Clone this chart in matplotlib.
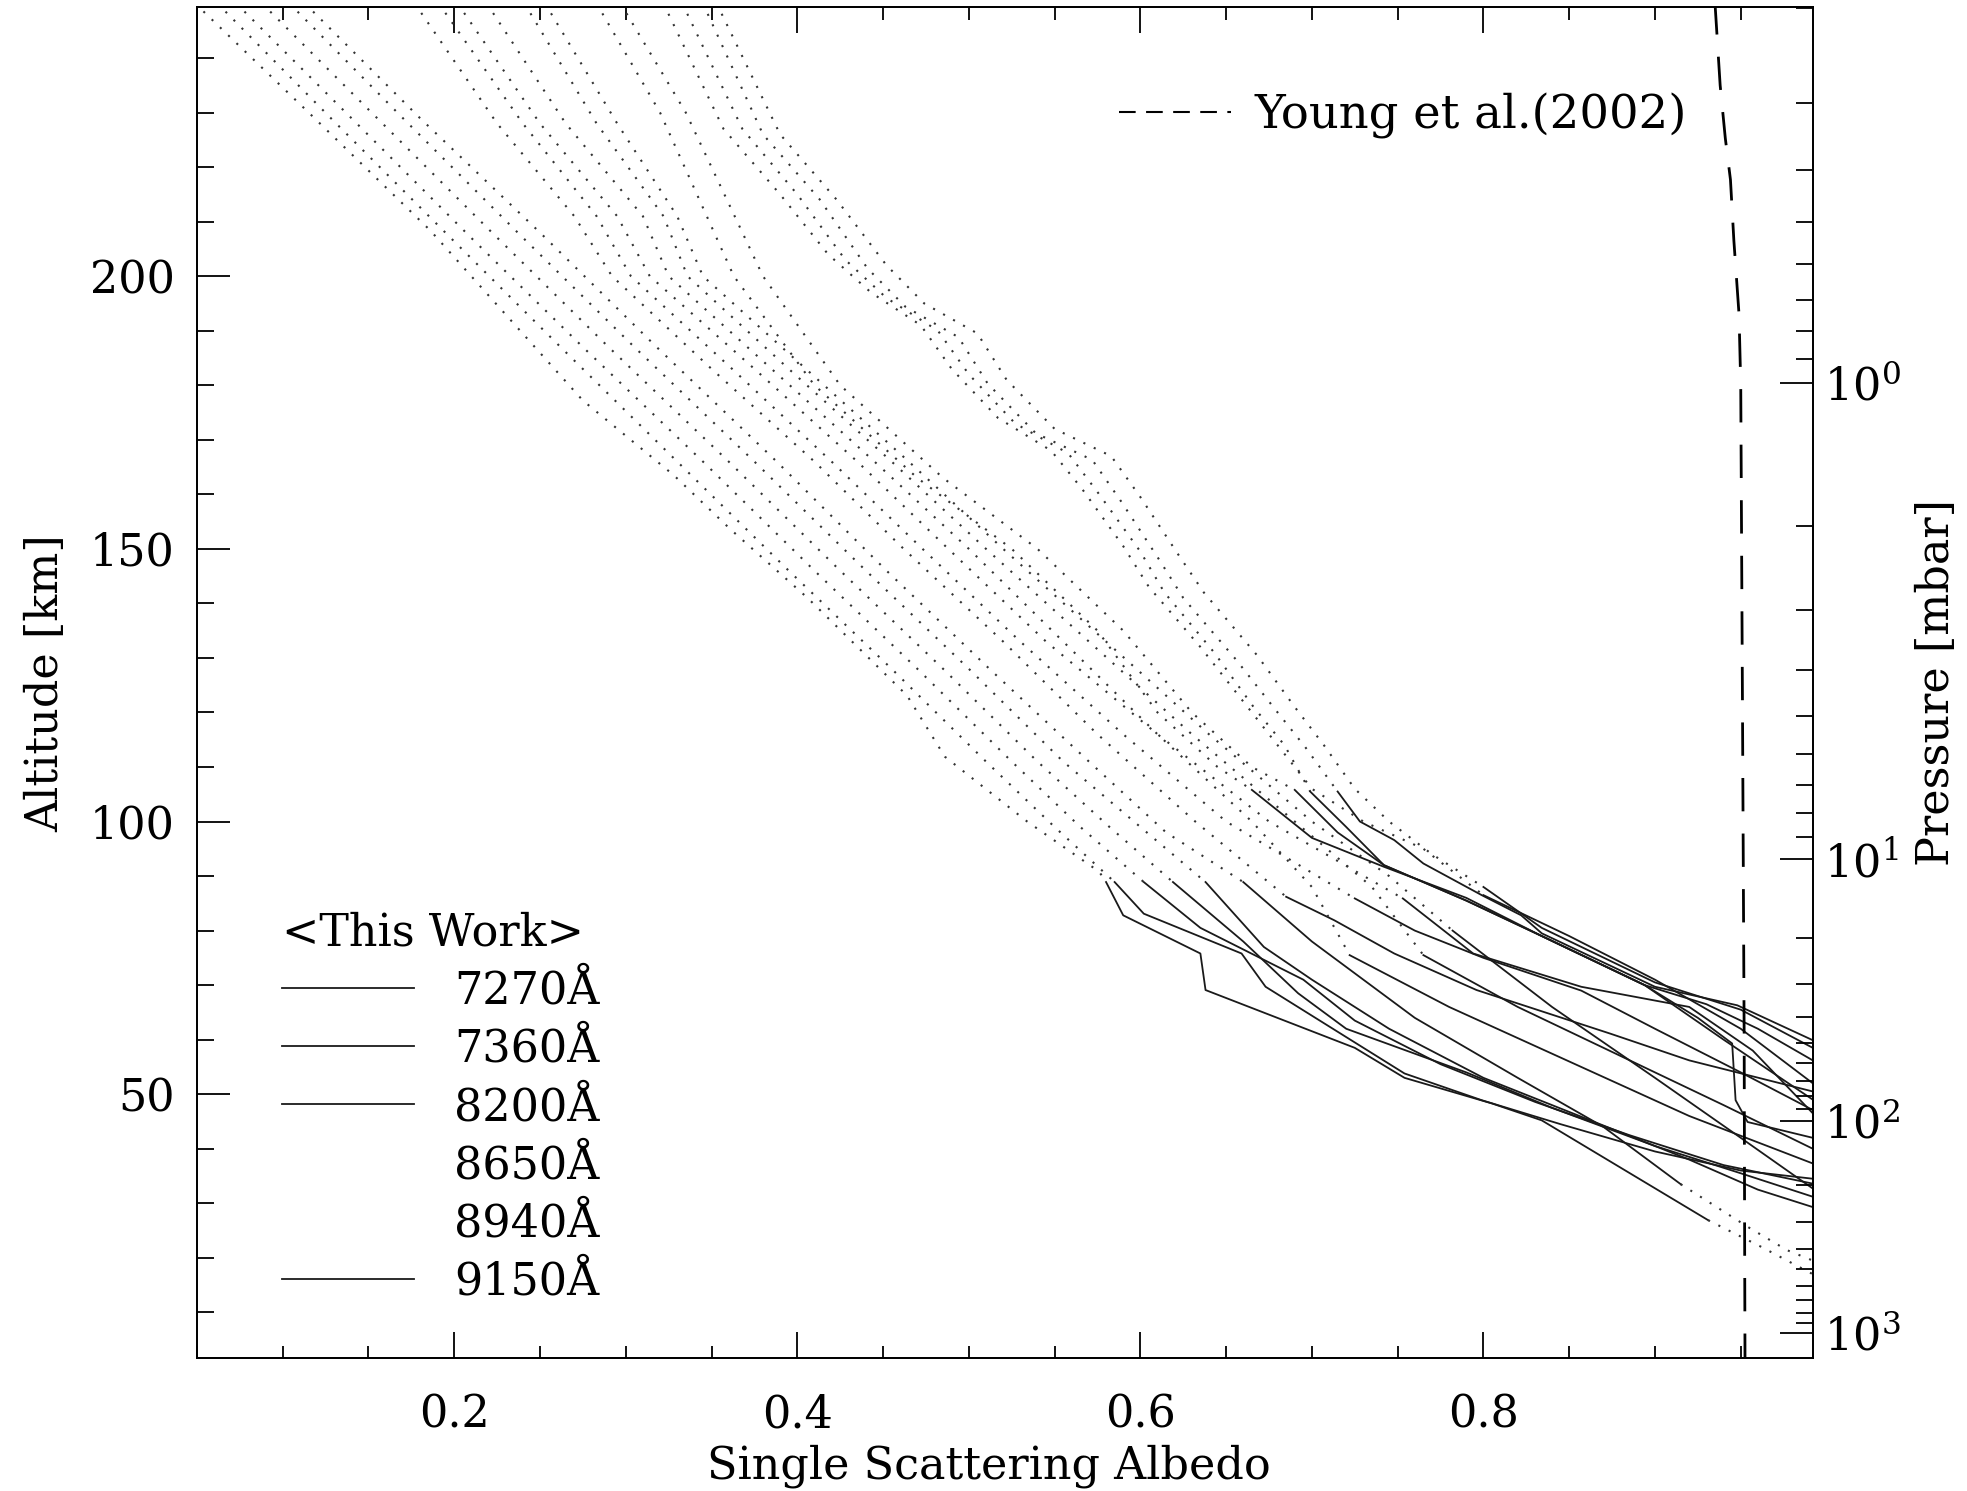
import numpy as np
import matplotlib
matplotlib.use("Agg")
import matplotlib.pyplot as plt
from matplotlib.lines import Line2D
from matplotlib.ticker import MultipleLocator

plt.rcParams['font.family'] = ['DejaVu Serif', 'DejaVu Sans']
plt.rcParams['mathtext.fontset'] = 'dejavuserif'

FS = 32

# ---------------- data ----------------
wavelengths = ['7270Å', '7360Å', '8200Å', '8650Å', '8940Å', '9150Å']

# Young et al. (2002) albedo profile
young_albedo = [0.9525, 0.9523, 0.952, 0.951, 0.950, 0.949, 0.946, 0.944, 0.941, 0.938, 0.935]
young_alt = [0.0, 20.0, 60.0, 122.0, 180.0, 193.0, 206.5, 217.7, 225.3, 235.0, 250.0]

# pressure scale of the right axis: altitude [km] vs log10(p / mbar)
press_alt = [0.0, 6.2, 45.0, 93.1, 180.4, 260.0]
press_log = [3.17, 3.0, 2.0, 1.0, 0.0, -0.81]

# retrieved profiles (albedo, altitude); *_solid = (lowest, highest) altitude of the solid part
l1_albedo = [0.049, 0.1145, 0.186, 0.247, 0.275, 0.328, 0.361, 0.406, 0.464, 0.486, 0.534, 0.576, 0.580,
             0.590, 0.635, 0.638, 0.725, 0.754, 0.805, 0.834, 0.931, 0.962, 0.992]
l1_alt = [250.0, 230.2, 208.4, 187.0, 177.2, 163.5, 153.6, 141.0, 123.1, 111.9, 100.0, 90.8, 88.9,
          82.8, 75.8, 69.1, 58.5, 53.0, 48.3, 45.2, 26.9, 22.0, 17.0]
l1_solid = (26.9, 88.9)

l2_albedo = [0.062, 0.128, 0.198, 0.262, 0.33, 0.395, 0.455, 0.51, 0.55, 0.585,
             0.602, 0.659, 0.673, 0.754, 0.799, 0.845, 0.90, 0.95, 0.992]
l2_alt = [250.0, 229.0, 207.0, 187.0, 166.0, 146.0, 128.0, 111.0, 99.0, 88.9,
          83.1, 75.8, 69.7, 53.8, 48.9, 44.5, 39.5, 36.0, 34.5]
l2_solid = (34.5, 88.9)

l3_albedo = [0.073, 0.14, 0.21, 0.275, 0.345, 0.41, 0.47, 0.525, 0.565, 0.602,
             0.635, 0.695, 0.725, 0.775, 0.83, 0.885, 0.94, 0.992]
l3_alt = [250.0, 229.0, 207.0, 187.0, 166.0, 146.0, 128.0, 111.0, 99.0, 88.9,
          80.5, 71.0, 63.5, 55.5, 48.6, 42.5, 37.0, 33.6]
l3_solid = (33.6, 88.9)

l4_albedo = [0.088, 0.155, 0.222, 0.29, 0.36, 0.425, 0.485, 0.54, 0.582, 0.619,
             0.66, 0.692, 0.72, 0.79, 0.84, 0.90, 0.95, 0.992]
l4_alt = [250.0, 229.0, 208.0, 187.0, 166.0, 146.0, 128.0, 111.0, 99.0, 88.9,
          78.0, 68.5, 62.0, 54.0, 47.5, 40.5, 35.5, 31.2]
l4_solid = (31.2, 88.9)

l5_albedo = [0.104, 0.17, 0.237, 0.305, 0.375, 0.44, 0.50, 0.555, 0.60, 0.638,
             0.672, 0.70, 0.745, 0.80, 0.86, 0.92, 0.96, 0.992]
l5_alt = [250.0, 229.0, 208.0, 187.0, 166.0, 146.0, 128.0, 111.0, 99.0, 88.9,
          77.0, 71.0, 62.0, 53.0, 45.5, 38.0, 32.5, 29.3]
l5_solid = (29.3, 88.9)

l6_albedo = [0.113, 0.18, 0.25, 0.318, 0.388, 0.452, 0.512, 0.57, 0.615, 0.66,
             0.70, 0.76, 0.82, 0.87, 0.915, 0.955, 0.977, 0.992]
l6_alt = [250.0, 229.0, 208.0, 187.0, 166.0, 146.0, 128.0, 111.0, 98.0, 88.9,
          78.0, 64.0, 53.0, 44.0, 33.5, 25.5, 21.4, 19.5]
l6_solid = (33.5, 88.9)

m1_albedo = [0.177, 0.225, 0.27, 0.292, 0.35, 0.41, 0.462, 0.52, 0.575, 0.632, 0.685,
             0.713, 0.748, 0.796, 0.874, 0.920, 0.992]
m1_alt = [250.0, 228.0, 211.0, 200.0, 183.0, 166.0, 150.0, 133.0, 116.0, 100.0, 86.2,
          81.9, 75.8, 69.1, 61.1, 56.2, 50.5]
m1_solid = (50.5, 86.2)

m2_albedo = [0.191, 0.24, 0.283, 0.303, 0.362, 0.42, 0.473, 0.53, 0.59, 0.65, 0.725,
             0.76, 0.80, 0.857, 0.90, 0.95, 0.992]
m2_alt = [250.0, 228.0, 211.0, 200.0, 183.0, 166.0, 150.0, 133.0, 116.0, 100.0, 85.9,
          80.0, 75.0, 69.0, 62.0, 54.0, 47.1]
m2_solid = (47.1, 85.9)

m3_albedo = [0.202, 0.25, 0.295, 0.314, 0.375, 0.435, 0.488, 0.545, 0.61, 0.675, 0.753,
             0.794, 0.857, 0.92, 0.957, 0.992]
m3_alt = [250.0, 228.0, 211.0, 200.0, 183.0, 166.0, 150.0, 133.0, 116.0, 100.0, 85.9,
          75.8, 69.7, 66.0, 58.0, 46.5]
m3_solid = (46.5, 85.9)

m4_albedo = [0.219, 0.265, 0.31, 0.325, 0.385, 0.445, 0.50, 0.555, 0.61, 0.665, 0.70,
             0.722, 0.78, 0.85, 0.92, 0.992]
m4_alt = [250.0, 228.0, 211.0, 200.0, 183.0, 166.0, 150.0, 133.0, 116.0, 100.0, 88.0,
          75.5, 66.0, 56.0, 46.0, 37.3]
m4_solid = (37.3, 75.5)

m5_albedo = [0.241, 0.283, 0.322, 0.336, 0.395, 0.455, 0.51, 0.57, 0.63, 0.69, 0.735,
             0.765, 0.82, 0.88, 0.94, 0.992]
m5_alt = [250.0, 228.0, 211.0, 200.0, 183.0, 166.0, 150.0, 133.0, 116.0, 100.0, 88.0,
          75.5, 66.0, 57.0, 48.0, 40.0]
m5_solid = (40.0, 75.5)

m6_albedo = [0.253, 0.295, 0.33, 0.345, 0.405, 0.465, 0.52, 0.58, 0.64, 0.70, 0.745,
             0.782, 0.84, 0.90, 0.95, 0.992]
m6_alt = [250.0, 228.0, 211.0, 200.0, 183.0, 166.0, 150.0, 133.0, 116.0, 100.0, 90.0,
          80.0, 66.0, 53.0, 42.0, 32.7]
m6_solid = (32.7, 80.0)

ra1_albedo = [0.283, 0.32, 0.363, 0.41, 0.47, 0.525, 0.575, 0.61, 0.645, 0.665,
              0.70, 0.742, 0.79, 0.834, 0.894, 0.94, 0.992]
ra1_alt = [250.0, 230.0, 200.0, 180.0, 163.0, 150.0, 135.0, 120.0, 110.0, 105.8,
           97.0, 91.7, 86.0, 79.0, 70.0, 60.0, 49.0]
ra1_solid = (49.0, 105.8)

ra2_albedo = [0.297, 0.335, 0.38, 0.425, 0.485, 0.54, 0.59, 0.63, 0.665, 0.690,
              0.715, 0.742, 0.79, 0.834, 0.894, 0.925, 0.945, 0.947, 0.954, 0.992]
ra2_alt = [250.0, 230.0, 200.0, 180.0, 163.0, 150.0, 135.0, 120.0, 110.0, 105.8,
           98.0, 92.0, 85.5, 79.0, 70.0, 64.0, 59.3, 48.9, 44.9, 42.0]
ra2_solid = (42.0, 105.8)

rb1_albedo = [0.345, 0.380, 0.413, 0.441, 0.463, 0.494, 0.511, 0.539, 0.572, 0.589, 0.611, 0.625,
              0.656, 0.679, 0.696, 0.715, 0.728, 0.748, 0.765, 0.799, 0.822, 0.834, 0.900, 0.948, 0.992]
rb1_alt = [250.0, 226.0, 214.1, 201.4, 194.4, 188.8, 180.3, 171.2, 166.3, 158.6, 148.0, 141.0,
           129.6, 120.4, 113.7, 105.5, 100.0, 96.6, 92.3, 86.5, 82.8, 79.5, 69.7, 66.3, 59.9]
rb1_solid = (59.9, 105.5)

rb2_albedo = [0.333, 0.368, 0.40, 0.428, 0.452, 0.482, 0.50, 0.527, 0.558, 0.576, 0.60, 0.614,
              0.643, 0.666, 0.684, 0.699, 0.72, 0.742, 0.79, 0.834, 0.894, 0.93, 0.96, 0.992]
rb2_alt = [250.0, 227.0, 215.0, 203.0, 196.0, 190.0, 182.0, 173.0, 167.5, 160.0, 149.5, 142.0,
           131.0, 121.0, 114.0, 105.5, 99.0, 92.0, 85.5, 79.0, 70.0, 66.5, 62.0, 56.2]
rb2_solid = (56.2, 105.5)

rb3_albedo = [0.322, 0.357, 0.39, 0.418, 0.443, 0.472, 0.49, 0.517, 0.548, 0.566, 0.59, 0.605,
              0.635, 0.66, 0.68, 0.70, 0.73, 0.765, 0.80, 0.85, 0.90, 0.95, 0.992]
rb3_alt = [250.0, 227.0, 215.0, 204.0, 197.0, 191.0, 183.0, 174.0, 168.0, 161.0, 150.5, 143.0,
           132.0, 122.0, 114.0, 106.0, 100.0, 95.0, 86.5, 79.0, 71.0, 62.0, 52.0]
rb3_solid = (52.0, 86.5)

rb4_albedo = [0.353, 0.39, 0.423, 0.452, 0.474, 0.505, 0.522, 0.55, 0.583, 0.60, 0.622, 0.637,
              0.668, 0.69, 0.707, 0.725, 0.745, 0.77, 0.80, 0.834, 0.90, 0.95, 0.992]
rb4_alt = [250.0, 226.0, 214.0, 202.0, 195.0, 189.5, 181.0, 172.0, 167.0, 159.5, 149.0, 142.0,
           130.5, 121.0, 114.0, 106.0, 100.0, 94.0, 88.0, 80.5, 70.5, 65.5, 58.5]
rb4_solid = (58.5, 88.0)

profiles = [
    (l1_albedo, l1_alt, l1_solid), (l2_albedo, l2_alt, l2_solid), (l3_albedo, l3_alt, l3_solid),
    (l4_albedo, l4_alt, l4_solid), (l5_albedo, l5_alt, l5_solid), (l6_albedo, l6_alt, l6_solid),
    (m1_albedo, m1_alt, m1_solid), (m2_albedo, m2_alt, m2_solid), (m3_albedo, m3_alt, m3_solid),
    (m4_albedo, m4_alt, m4_solid), (m5_albedo, m5_alt, m5_solid), (m6_albedo, m6_alt, m6_solid),
    (ra1_albedo, ra1_alt, ra1_solid), (ra2_albedo, ra2_alt, ra2_solid),
    (rb1_albedo, rb1_alt, rb1_solid), (rb2_albedo, rb2_alt, rb2_solid),
    (rb3_albedo, rb3_alt, rb3_solid), (rb4_albedo, rb4_alt, rb4_solid),
]

# ---------------- plot ----------------
fig = plt.figure(figsize=(19.67, 14.91), dpi=100)
ax = fig.add_axes([0.1001, 0.0891, 0.8215, 0.906])

dotted = dict(color='0.2', lw=1.5, ls=(0, (1, 4.5)))
solid = dict(color='0.1', lw=1.3, ls='-')

for albedo, alt, (lo, hi) in profiles:
    albedo = np.asarray(albedo)
    alt = np.asarray(alt)
    upper = alt >= hi
    middle = (alt >= lo) & (alt <= hi)
    lower = alt <= lo
    ax.plot(albedo[upper], alt[upper], **dotted)
    ax.plot(albedo[middle], alt[middle], **solid)
    if lower.sum() > 1:
        ax.plot(albedo[lower], alt[lower], **dotted)

ax.plot(young_albedo, young_alt, color='k', lw=2, dashes=(12, 8))

ax.set_xlim(0.05, 0.992)
ax.set_ylim(1.6, 249.3)
ax.set_xticks([0.2, 0.4, 0.6, 0.8])
ax.set_xticklabels(['0.2', '0.4', '0.6', '0.8'])
ax.xaxis.set_minor_locator(MultipleLocator(0.05))
ax.set_yticks([50, 100, 150, 200])
ax.yaxis.set_minor_locator(MultipleLocator(10))

ax.tick_params(axis='x', which='both', direction='in', top=True, bottom=True,
               labelsize=FS, pad=25.5, width=1.3)
ax.tick_params(axis='x', which='major', length=19)
ax.tick_params(axis='x', which='minor', length=9)
ax.tick_params(axis='y', which='both', direction='in', left=True, right=False,
               labelsize=FS, pad=16, width=1.3)
ax.tick_params(axis='y', which='major', length=24)
ax.tick_params(axis='y', which='minor', length=12)
for sp in ax.spines.values():
    sp.set_linewidth(1.3)

# right pressure axis
ax2 = ax.twinx()
ax2.set_ylim(ax.get_ylim())
xp = press_log[::-1]
fp = press_alt[::-1]
decades = [1.0, 10.0, 100.0, 1000.0]
ax2.set_yticks(np.interp(np.log10(decades), xp, fp))
ax2.set_yticklabels(['$10^{0}$', '$10^{1}$', '$10^{2}$', '$10^{3}$'])
minor_p = [m * d for d in [0.1, 1.0, 10.0, 100.0] for m in range(2, 10)]
ax2.set_yticks(np.interp(np.log10(minor_p), xp, fp), minor=True)
ax2.tick_params(axis='y', which='both', direction='in', labelsize=FS, pad=8, width=1.3)
ax2.tick_params(axis='y', which='major', length=24)
ax2.tick_params(axis='y', which='minor', length=12)
for sp in ax2.spines.values():
    sp.set_linewidth(1.3)

ax.set_xlabel('Single Scattering Albedo', fontsize=FS)
ax.xaxis.set_label_coords(0.49, -0.064)
ax.set_ylabel('Altitude [km]', fontsize=FS)
ax.yaxis.set_label_coords(-0.080, 0.5)
ax2.set_ylabel('Pressure [mbar]', fontsize=FS)
ax2.yaxis.set_label_coords(1.063, 0.5)

# legends
young_handle = Line2D([], [], color='k', lw=1.5, dashes=(8, 5))
leg1 = ax.legend([young_handle], ['Young et al.(2002)'], loc='upper right',
                 bbox_to_anchor=(0.922, 0.937), frameon=False, fontsize=33.5,
                 handlelength=2.4, handletextpad=0.5, borderpad=0, borderaxespad=0)
ax.add_artist(leg1)

work_handles = [Line2D([], [], **solid), Line2D([], [], **solid), Line2D([], [], **solid),
                Line2D([], [], ls='none'), Line2D([], [], ls='none'), Line2D([], [], **solid)]
ax.legend(work_handles, wavelengths, title='<This Work>', loc='upper left',
          bbox_to_anchor=(0.0527, 0.331), frameon=False, fontsize=FS, title_fontsize=FS,
          handlelength=2.97, handletextpad=0.9, labelspacing=0.34, borderpad=0,
          borderaxespad=0, alignment='left')

fig.savefig('out.png', dpi=100)
